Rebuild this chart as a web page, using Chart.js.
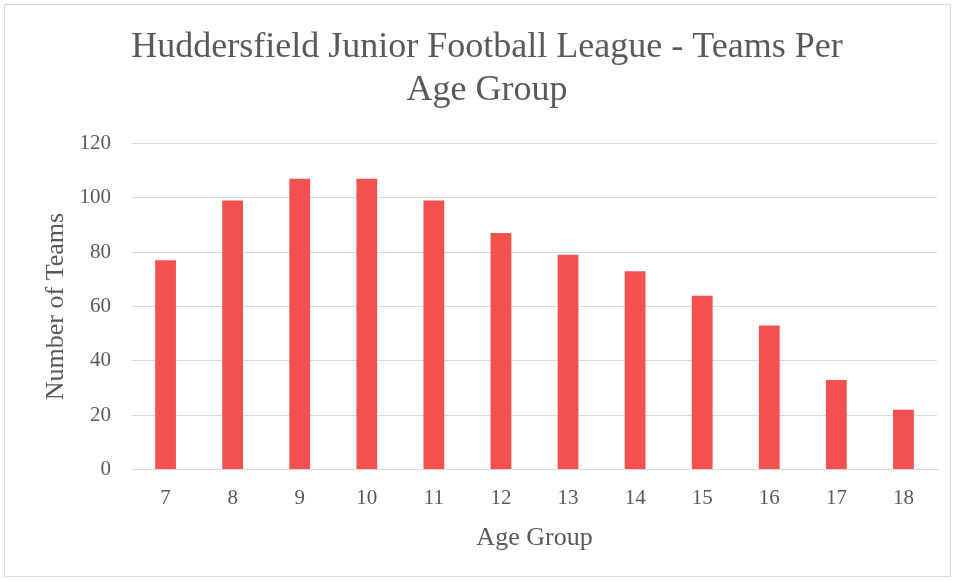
<!DOCTYPE html>
<html>
<head>
<meta charset="utf-8">
<script src="https://cdn.jsdelivr.net/npm/chart.js@4"></script>
<style>
  html, body { margin: 0; padding: 0; background: #fff; }
  .frame {
    position: absolute; left: 4px; top: 4px; width: 947px; height: 573px;
    border: 1px solid #d9d9d9; box-sizing: border-box;
  }
  canvas { position: absolute; left: 0; top: 0; }
</style>
</head>
<body>
<div class="frame"></div>
<canvas class="teams-chart" width="957" height="581"></canvas>
<script>
const ageGroups = ['7', '8', '9', '10', '11', '12', '13', '14', '15', '16', '17', '18'];
const teams = [77, 99, 107, 107, 99, 87, 79, 73, 64, 53, 33, 22];
const titleLines = ['Huddersfield Junior Football League - Teams Per', 'Age Group'];

const ctx = document.querySelector('.teams-chart');
const serif = "'Liberation Serif', 'DejaVu Serif', serif";

new Chart(ctx, {
    type: 'bar',
    data: {
        labels: ageGroups,
        datasets: [{
            label: 'Number of Teams',
            data: teams,
            backgroundColor: '#f2514f',
            borderWidth: 0,
            barPercentage: 0.31,
            categoryPercentage: 1
        }]
    },
    options: {
        responsive: false,
        animation: false,
        layout: {
            padding: { left: 37, right: 20, top: 26, bottom: 23 }
        },
        scales: {
            x: {
                border: { display: true, color: '#d9d9d9', width: 1 },
                grid: { display: false },
                ticks: { color: '#595959', font: { family: serif, size: 21 }, padding: 8 },
                title: {
                    display: true,
                    text: 'Age Group',
                    color: '#595959',
                    font: { family: serif, size: 26 },
                    padding: { top: 4, bottom: 4 }
                }
            },
            y: {
                min: 0,
                max: 120,
                afterFit: scale => { scale.width = 95; },
                ticks: { stepSize: 20, color: '#595959', font: { family: serif, size: 21 }, padding: 21 },
                border: { display: false },
                grid: { color: '#d9d9d9', lineWidth: 1, drawTicks: false },
                title: {
                    display: true,
                    text: 'Number of Teams',
                    color: '#595959',
                    font: { family: serif, size: 26 },
                    padding: { top: 4, bottom: 4 }
                }
            }
        },
        plugins: {
            legend: { display: false },
            tooltip: { enabled: false },
            title: {
                display: true,
                text: titleLines,
                color: '#595959',
                font: { family: serif, size: 36, weight: 'normal', lineHeight: 1.2 },
                padding: { top: 0, bottom: 31 }
            }
        }
    }
});
</script>
</body>
</html>
